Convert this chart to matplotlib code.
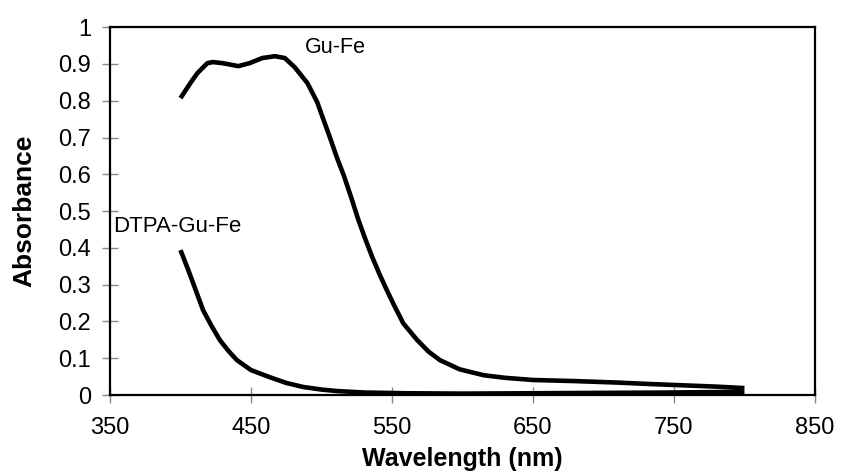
import matplotlib
matplotlib.use("Agg")
import matplotlib.pyplot as plt

plt.rcParams["font.family"] = ["Liberation Sans", "DejaVu Sans"]

# Gu-Fe spectrum
gufe_wl = [400, 407, 412, 419, 423, 430, 441, 449, 458, 467, 474, 481, 490, 497,
           501, 506, 511, 516, 521, 526, 531, 536, 541, 546, 551, 558, 568, 576,
           584, 598, 615, 630, 650, 680, 710, 733, 760, 780, 800]
gufe_abs = [0.807, 0.848, 0.875, 0.902, 0.905, 0.902, 0.894, 0.902, 0.916, 0.921,
            0.916, 0.891, 0.848, 0.796, 0.753, 0.70, 0.645, 0.595, 0.538, 0.478,
            0.425, 0.375, 0.33, 0.288, 0.248, 0.195, 0.149, 0.118, 0.095, 0.07,
            0.054, 0.047, 0.041, 0.038, 0.034, 0.030, 0.026, 0.023, 0.019]

# DTPA-Gu-Fe spectrum
dtpa_wl = [400, 405, 409, 416, 422, 428, 434, 440, 450, 463, 475, 487, 500, 511,
           530, 560, 600, 650, 700, 750, 800]
dtpa_abs = [0.394, 0.345, 0.304, 0.231, 0.188, 0.149, 0.12, 0.095, 0.068, 0.049,
            0.033, 0.022, 0.015, 0.011, 0.007, 0.005, 0.004, 0.005, 0.006, 0.007,
            0.009]

x_ticks = [350, 450, 550, 650, 750, 850]
y_ticks = [0, 0.1, 0.2, 0.3, 0.4, 0.5, 0.6, 0.7, 0.8, 0.9, 1]
y_labels = ["0", "0.1", "0.2", "0.3", "0.4", "0.5", "0.6", "0.7", "0.8", "0.9", "1"]

fig = plt.figure(figsize=(8.41, 4.76), dpi=100)
ax = fig.add_axes([0.1308, 0.170, 0.8382, 0.773])

ax.plot(gufe_wl, gufe_abs, color="black", lw=3.3, solid_capstyle="butt",
        solid_joinstyle="round")
ax.plot(dtpa_wl, dtpa_abs, color="black", lw=3.3, solid_capstyle="butt",
        solid_joinstyle="round")

ax.text(488, 0.944, "Gu-Fe", fontsize=15.5, va="center", ha="left")
ax.text(352, 0.457, "DTPA-Gu-Fe", fontsize=16, va="center", ha="left")

ax.set_xlim(350, 850)
ax.set_ylim(0, 1)
ax.set_xticks(x_ticks)
ax.set_yticks(y_ticks)
ax.set_yticklabels(y_labels)
ax.tick_params(direction="inout", length=11, width=1, color="#888888",
               labelsize=17)
ax.tick_params(axis="x", pad=10)
ax.tick_params(axis="y", pad=8)

for s in ax.spines.values():
    s.set_linewidth(1.6)
    s.set_color("black")

ax.set_xlabel("Wavelength (nm)", fontsize=18, fontweight="bold", labelpad=6)
ax.set_ylabel("Absorbance", fontsize=19, fontweight="bold", labelpad=16)

fig.savefig("out.png", dpi=100)
